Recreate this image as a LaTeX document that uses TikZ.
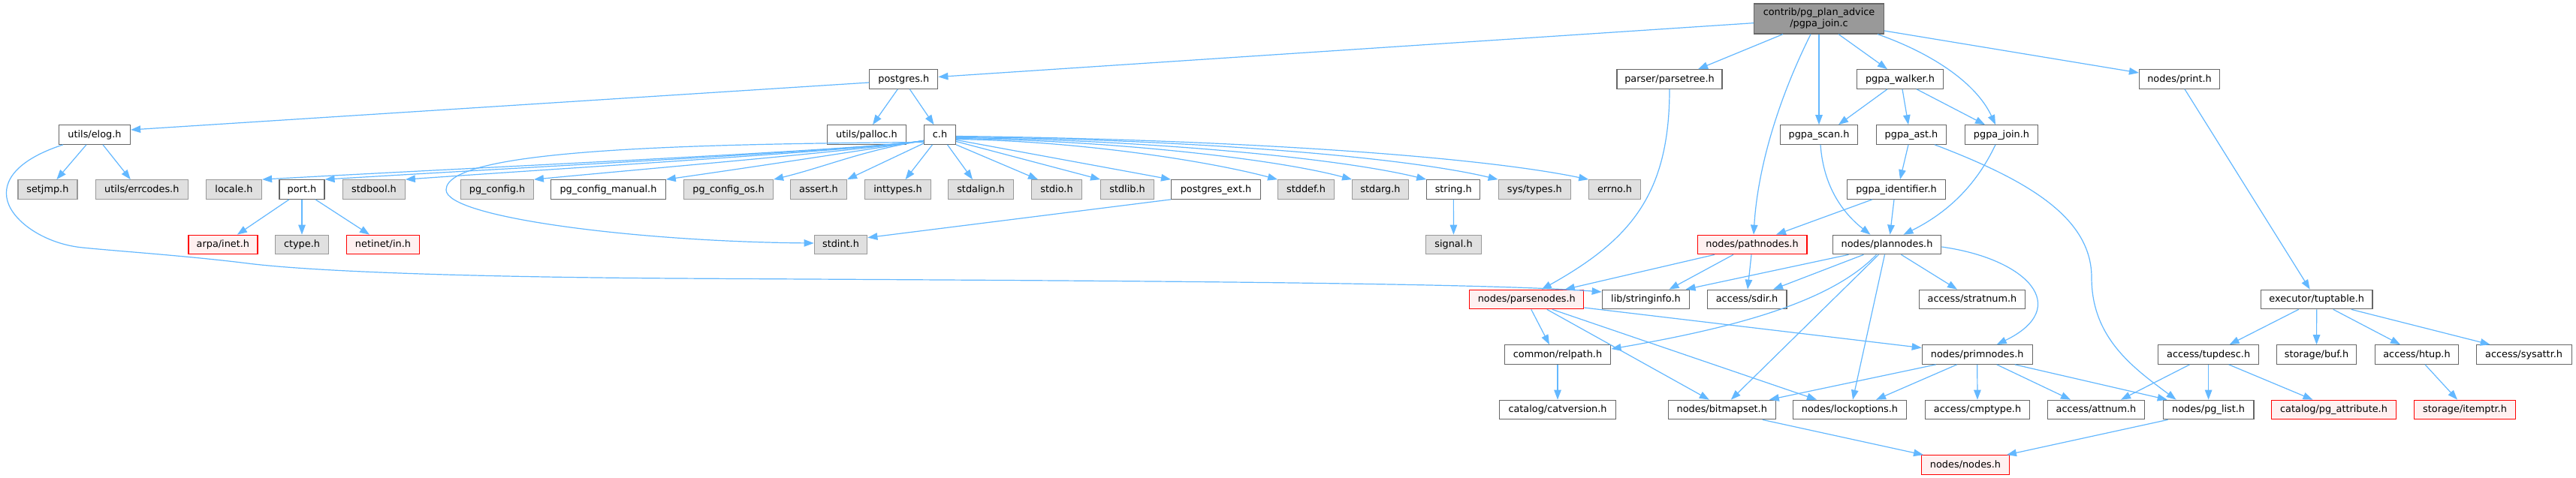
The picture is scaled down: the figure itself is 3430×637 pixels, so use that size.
\documentclass[tikz,border=0pt]{standalone}
\usepackage{fontspec}
\setmainfont{DejaVu Sans}
\usetikzlibrary{arrows.meta}
\definecolor{edgeblue}{HTML}{63B8FF}
\definecolor{grayfill}{HTML}{E0E0E0}
\definecolor{grayline}{HTML}{999999}
\definecolor{darkline}{HTML}{666666}
\definecolor{redline}{HTML}{FF0000}
\definecolor{redfill}{HTML}{FFF0F0}
\definecolor{mainfill}{HTML}{999999}
\tikzset{
  basebox/.style={rectangle, inner sep=0pt, line width=1.2pt, minimum height=25.5pt, text height=10pt, text depth=3pt, font=\fontsize{12.85pt}{15pt}\selectfont, text=black},
  nb/.style={basebox, draw=darkline, fill=white},
  sysb/.style={basebox, draw=grayline, fill=grayfill},
  redb/.style={basebox, draw=redline, fill=redfill},
  mainb/.style={rectangle, inner sep=0pt, line width=1.2pt, draw=darkline, fill=mainfill, minimum height=40pt, align=center, font=\fontsize{12.85pt}{15pt}\selectfont, text=black},
  edg/.style={draw=edgeblue, line width=1.2pt, -{Triangle[length=13pt,width=9.5pt]}},
}
\begin{document}
\begin{tikzpicture}[x=1pt,y=-1pt]
\fill[white] (0,0) rectangle (3430,637);
\useasboundingbox (0,0) rectangle (3430,637);
% row 0
\node[mainb, minimum width=172.7pt] (main) at (2422,25) {contrib/pg\_plan\_advice\\/pgpa\_join.c};
% row 1
\node[nb, minimum width=91pt] (postgres) at (1203.3,105.5) {postgres.h};
\node[nb, minimum width=140pt] (parsetree) at (2223,105.5) {parser/parsetree.h};
\node[nb, minimum width=115pt] (walker) at (2530,105.5) {pgpa\_walker.h};
\node[nb, minimum width=107pt] (print) at (2902,105.5) {nodes/print.h};
% row 2
\node[nb, minimum width=95pt] (elog) at (126,179.5) {utils/elog.h};
\node[nb, minimum width=105pt] (palloc) at (1154,179.5) {utils/palloc.h};
\node[nb, minimum width=42pt] (ch) at (1251.5,179.5) {c.h};
\node[nb, minimum width=103pt] (pscan) at (2422,179.5) {pgpa\_scan.h};
\node[nb, minimum width=93.3pt] (past) at (2545,179.5) {pgpa\_ast.h};
\node[nb, minimum width=97.6pt] (pjoin) at (2665,179.5) {pgpa\_join.h};
% row 3
\node[sysb, minimum width=79pt] (setjmp) at (63.4,252.5) {setjmp.h};
\node[sysb, minimum width=123pt] (errcodes) at (188.8,252.5) {utils/errcodes.h};
\node[sysb, minimum width=74pt] (locale) at (311.5,252.5) {locale.h};
\node[nb, minimum width=60pt] (port) at (402,252.5) {port.h};
\node[sysb, minimum width=82.5pt] (stdbool) at (498,252.5) {stdbool.h};
\node[sysb, minimum width=96.6pt] (pgconfig) at (662,252.5) {pg\_config.h};
\node[nb, minimum width=152.4pt] (pgmanual) at (810,252.5) {pg\_config\_manual.h};
\node[sysb, minimum width=119pt] (pgos) at (970,252.5) {pg\_config\_os.h};
\node[sysb, minimum width=75pt] (assert) at (1090,252.5) {assert.h};
\node[sysb, minimum width=87.3pt] (inttypes) at (1195.5,252.5) {inttypes.h};
\node[sysb, minimum width=87.3pt] (stdalign) at (1306,252.5) {stdalign.h};
\node[sysb, minimum width=67pt] (stdio) at (1407,252.5) {stdio.h};
\node[sysb, minimum width=70.7pt] (stdlib) at (1501,252.5) {stdlib.h};
\node[nb, minimum width=118.8pt] (pext) at (1619,252.5) {postgres\_ext.h};
\node[sysb, minimum width=74.7pt] (stddef) at (1739,252.5) {stddef.h};
\node[sysb, minimum width=74.7pt] (stdarg) at (1838,252.5) {stdarg.h};
\node[nb, minimum width=71pt] (string) at (1935.3,252.5) {string.h};
\node[sysb, minimum width=96.2pt] (systypes) at (2043.3,252.5) {sys/types.h};
\node[sysb, minimum width=68.4pt] (errno) at (2150,252.5) {errno.h};
\node[nb, minimum width=130.6pt] (ident) at (2525,252.5) {pgpa\_identifier.h};
% row 4
\node[redb, minimum width=92pt] (arpa) at (296.9,326) {arpa/inet.h};
\node[sysb, minimum width=71.4pt] (ctype) at (402,326) {ctype.h};
\node[redb, minimum width=96.6pt] (netinet) at (510,326) {netinet/in.h};
\node[sysb, minimum width=70.6pt] (stdint) at (1119.5,326) {stdint.h};
\node[sysb, minimum width=73.6pt] (signal) at (1935.5,326) {signal.h};
\node[redb, minimum width=145.8pt] (pathnodes) at (2333,326) {nodes/pathnodes.h};
\node[nb, minimum width=144.6pt] (plannodes) at (2512.5,326) {nodes/plannodes.h};
% row 5
\node[redb, minimum width=152pt] (parsenodes) at (2032.8,399) {nodes/parsenodes.h};
\node[nb, minimum width=116.5pt] (stringinfo) at (2191.5,399) {lib/stringinfo.h};
\node[nb, minimum width=105.8pt] (sdir) at (2326,399) {access/sdir.h};
\node[nb, minimum width=141.7pt] (stratnum) at (2626,399) {access/stratnum.h};
\node[nb, minimum width=148.4pt] (tuptable) at (3084.7,399) {executor/tuptable.h};
% row 6
\node[nb, minimum width=141.7pt] (relpath) at (2074,472.5) {common/relpath.h};
\node[nb, minimum width=146.8pt] (primnodes) at (2632.7,472.5) {nodes/primnodes.h};
\node[nb, minimum width=134pt] (tupdesc) at (2940.6,472.5) {access/tupdesc.h};
\node[nb, minimum width=106.5pt] (buf) at (3084.5,472.5) {storage/buf.h};
\node[nb, minimum width=111pt] (htup) at (3218,472.5) {access/htup.h};
\node[nb, minimum width=127pt] (sysattr) at (3360.6,472.5) {access/sysattr.h};
% row 7
\node[nb, minimum width=155pt] (catversion) at (2074,546) {catalog/catversion.h};
\node[nb, minimum width=143pt] (bitmapset) at (2292.8,546) {nodes/bitmapset.h};
\node[nb, minimum width=151.3pt] (lockoptions) at (2463,546) {nodes/lockoptions.h};
\node[nb, minimum width=139pt] (cmptype) at (2633,546) {access/cmptype.h};
\node[nb, minimum width=129.5pt] (attnum) at (2791,546) {access/attnum.h};
\node[nb, minimum width=120.6pt] (pglist) at (2940.6,546) {nodes/pg\_list.h};
\node[redb, minimum width=165.7pt] (pgattr) at (3107.5,546) {catalog/pg\_attribute.h};
\node[redb, minimum width=134.7pt] (itemptr) at (3282,546) {storage/itemptr.h};
% row 8
\node[redb, minimum width=116.5pt] (nodesh) at (2617,619.5) {nodes/nodes.h};

% ---- edges from main
\draw[edg] (main) -- (postgres);
\draw[edg] ([xshift=-48pt]main.south) -- ([xshift=38pt]parsetree.north);
\draw[edg] ([xshift=-11pt]main.south) .. controls (2364,140) and (2340,230) .. ([xshift=2pt]pathnodes.north);
\draw[edg] (main) -- (pscan);
\draw[edg] ([xshift=26pt]main.south) -- ([xshift=-17pt]walker.north);
\draw[edg] ([xshift=78pt]main.south) .. controls (2575,72) and (2632,112) .. ([xshift=-8pt]pjoin.north);
\draw[edg] ([yshift=-16pt]main.east) -- ([yshift=8.5pt]print.west);
% ---- postgres.h
\draw[edg] ([yshift=-4.5pt]postgres.west) -- ([yshift=6.5pt]elog.east);
\draw[edg] ([xshift=-8pt]postgres.south) -- ([xshift=8pt]palloc.north);
\draw[edg] ([xshift=8pt]postgres.south) -- ([xshift=-8pt]ch.north);
% ---- elog
\draw[edg] ([xshift=-11pt]elog.south) -- ([xshift=12pt]setjmp.north);
\draw[edg] ([xshift=11pt]elog.south) -- ([xshift=-15pt]errcodes.north);
\draw[edg] ([xshift=-42pt]elog.south) .. controls (25,212) and (2,240) .. (10,268) .. controls (18,296) and (60,325) .. (110,330) .. controls (160,335) and (250,341) .. (330,351) .. controls (410,361) and (600,369) .. (900,371) .. controls (1300,373.5) and (1950,375) .. ([yshift=10pt]stringinfo.west);
% ---- c.h left fan
\draw[edg] ([yshift=-8pt]ch.west) .. controls (1150,200) and (657,222) .. (locale.north east);
\draw[edg] ([yshift=-8pt]ch.west) .. controls (1150,200) and (712,222) .. (port.north east);
\draw[edg] ([yshift=-8pt]ch.west) .. controls (1150,200) and (781,222) .. (stdbool.north east);
\draw[edg] ([yshift=-8pt]ch.west) .. controls (1150,200) and (892,222) .. (pgconfig.north east);
\draw[edg] ([yshift=-8pt]ch.west) .. controls (1150,200) and (1007,222) .. (pgmanual.north east);
\draw[edg] ([yshift=-8pt]ch.west) .. controls (1150,200) and (1100,222) .. (pgos.north east);
\draw[edg] ([yshift=-11.5pt]ch.west) -- (assert.north east);
\draw[edg] ([yshift=-10pt]ch.west) .. controls (900,192) and (594,200) .. (594,253) .. controls (594,290) and (850,322) .. ([yshift=2pt]stdint.west);
% ---- c.h down / right
\draw[edg] ([xshift=-10pt]ch.south) -- ([xshift=10pt]inttypes.north);
\draw[edg] ([xshift=10pt]ch.south) -- ([xshift=-11pt]stdalign.north);
\draw[edg] (ch.south east) -- ([xshift=-25pt]stdio.north);
\draw[edg] ([yshift=-9pt]ch.east) -- (stdlib.north west);
\draw[edg] ([yshift=-7pt]ch.east) -- (pext.north west);
\draw[edg] ([yshift=-6pt]ch.east) .. controls (1440,188) and (1610,215) .. (stddef.north west);
\draw[edg] ([yshift=-5pt]ch.east) .. controls (1480,187) and (1700,212) .. (stdarg.north west);
\draw[edg] ([yshift=-4pt]ch.east) .. controls (1520,186) and (1780,210) .. (string.north west);
\draw[edg] ([yshift=-3pt]ch.east) .. controls (1560,185) and (1860,207) .. (systypes.north west);
\draw[edg] ([yshift=-2pt]ch.east) .. controls (1600,185) and (1950,205) .. (errno.north west);
% ---- port, postgres_ext, string
\draw[edg] ([xshift=-17pt]port.south) -- ([xshift=19pt]arpa.north);
\draw[edg] (port) -- (ctype);
\draw[edg] ([xshift=18pt]port.south) -- ([xshift=-18pt]netinet.north);
\draw[edg] (pext.south west) -- ([yshift=-4pt]stdint.north east);
\draw[edg] (string) -- (signal);
% ---- parsetree, walker, pgpa
\draw[edg] (parsetree.south) .. controls (2223,260) and (2170,320) .. ([xshift=20pt]parsenodes.north);
\draw[edg] ([xshift=-17pt]walker.south) -- ([xshift=26pt]pscan.north);
\draw[edg] ([xshift=3pt]walker.south) -- ([xshift=-4pt]past.north);
\draw[edg] ([xshift=22pt]walker.south) -- ([xshift=-22pt]pjoin.north);
\draw[edg] ([xshift=2pt]pscan.south) .. controls (2428,250) and (2455,285) .. ([xshift=-22pt]plannodes.north);
\draw[edg] ([xshift=-8pt]pjoin.south) .. controls (2630,250) and (2590,285) .. ([xshift=22pt]plannodes.north);
\draw[edg] ([xshift=-4pt]past.south) -- ([xshift=5pt]ident.north);
\draw[edg] ([xshift=31pt]past.south) .. controls (2700,240) and (2785,290) .. (2785,370) .. controls (2785,450) and (2840,490) .. ([xshift=-43pt]pglist.north);
\draw[edg] ([xshift=-32pt]ident.south) -- ([xshift=32pt]pathnodes.north);
\draw[edg] ([xshift=-3pt]ident.south) -- ([xshift=4pt]plannodes.north);
% ---- pathnodes
\draw[edg] ([xshift=-50pt]pathnodes.south) -- ([xshift=51pt]parsenodes.north);
\draw[edg] ([xshift=-25pt]pathnodes.south) -- ([xshift=31pt]stringinfo.north);
\draw[edg] ([xshift=-1pt]pathnodes.south) -- ([xshift=1pt]sdir.north);
% ---- plannodes
\draw[edg] ([xshift=-51pt]plannodes.south) -- ([xshift=53pt]stringinfo.north);
\draw[edg] ([xshift=-31pt]plannodes.south) -- ([xshift=35pt]sdir.north);
\draw[edg] ([xshift=19pt]plannodes.south) -- ([xshift=-20pt]stratnum.north);
\draw[edg] ([yshift=-3pt]plannodes.east) .. controls (2700,345) and (2760,410) .. ([xshift=26pt]primnodes.north);
\draw[edg] ([xshift=-14pt]plannodes.south) .. controls (2440,400) and (2320,435) .. ([yshift=7.5pt]relpath.east);
\draw[edg] ([xshift=-11pt]plannodes.south) -- ([xshift=12pt]bitmapset.north);
\draw[edg] ([xshift=-3pt]plannodes.south) -- ([xshift=4pt]lockoptions.north);
% ---- parsenodes
\draw[edg] ([xshift=6pt]parsenodes.south) -- ([xshift=-11pt]relpath.north);
\draw[edg] ([xshift=27pt]parsenodes.south) -- ([xshift=-17pt]bitmapset.north);
\draw[edg] ([xshift=34pt]parsenodes.south) -- ([xshift=-44pt]lockoptions.north);
\draw[edg] ([yshift=-11pt]parsenodes.east) -- ([yshift=9pt]primnodes.west);
\draw[edg] (relpath) -- (catversion);
% ---- primnodes
\draw[edg] ([xshift=-55pt]primnodes.south) -- ([xshift=63pt]bitmapset.north);
\draw[edg] ([xshift=-27pt]primnodes.south) -- ([xshift=35pt]lockoptions.north);
\draw[edg] (primnodes.south) -- (cmptype.north);
\draw[edg] ([xshift=26pt]primnodes.south) -- ([xshift=-34pt]attnum.north);
\draw[edg] ([xshift=50pt]primnodes.south) -- ([xshift=6pt]pglist.north west);
% ---- to nodes.h
\draw[edg] ([xshift=54pt]bitmapset.south) -- ([xshift=-56pt]nodesh.north);
\draw[edg] ([xshift=-54pt]pglist.south) -- ([xshift=55pt]nodesh.north);
% ---- print / tuptable side
\draw[edg] ([xshift=7pt]print.south) -- ([xshift=-9pt]tuptable.north);
\draw[edg] ([xshift=-24pt]tuptable.south) -- ([xshift=28pt]tupdesc.north);
\draw[edg] (tuptable) -- (buf);
\draw[edg] ([xshift=22pt]tuptable.south) -- ([xshift=-22pt]htup.north);
\draw[edg] ([xshift=46pt]tuptable.south) -- ([xshift=-45pt]sysattr.north);
\draw[edg] ([xshift=11pt]htup.south) -- ([xshift=-10pt]itemptr.north);
\draw[edg] ([xshift=-25pt]tupdesc.south) -- ([xshift=33pt]attnum.north);
\draw[edg] (tupdesc) -- (pglist);
\draw[edg] ([xshift=27pt]tupdesc.south) -- ([xshift=-28pt]pgattr.north);
\end{tikzpicture}
\end{document}
